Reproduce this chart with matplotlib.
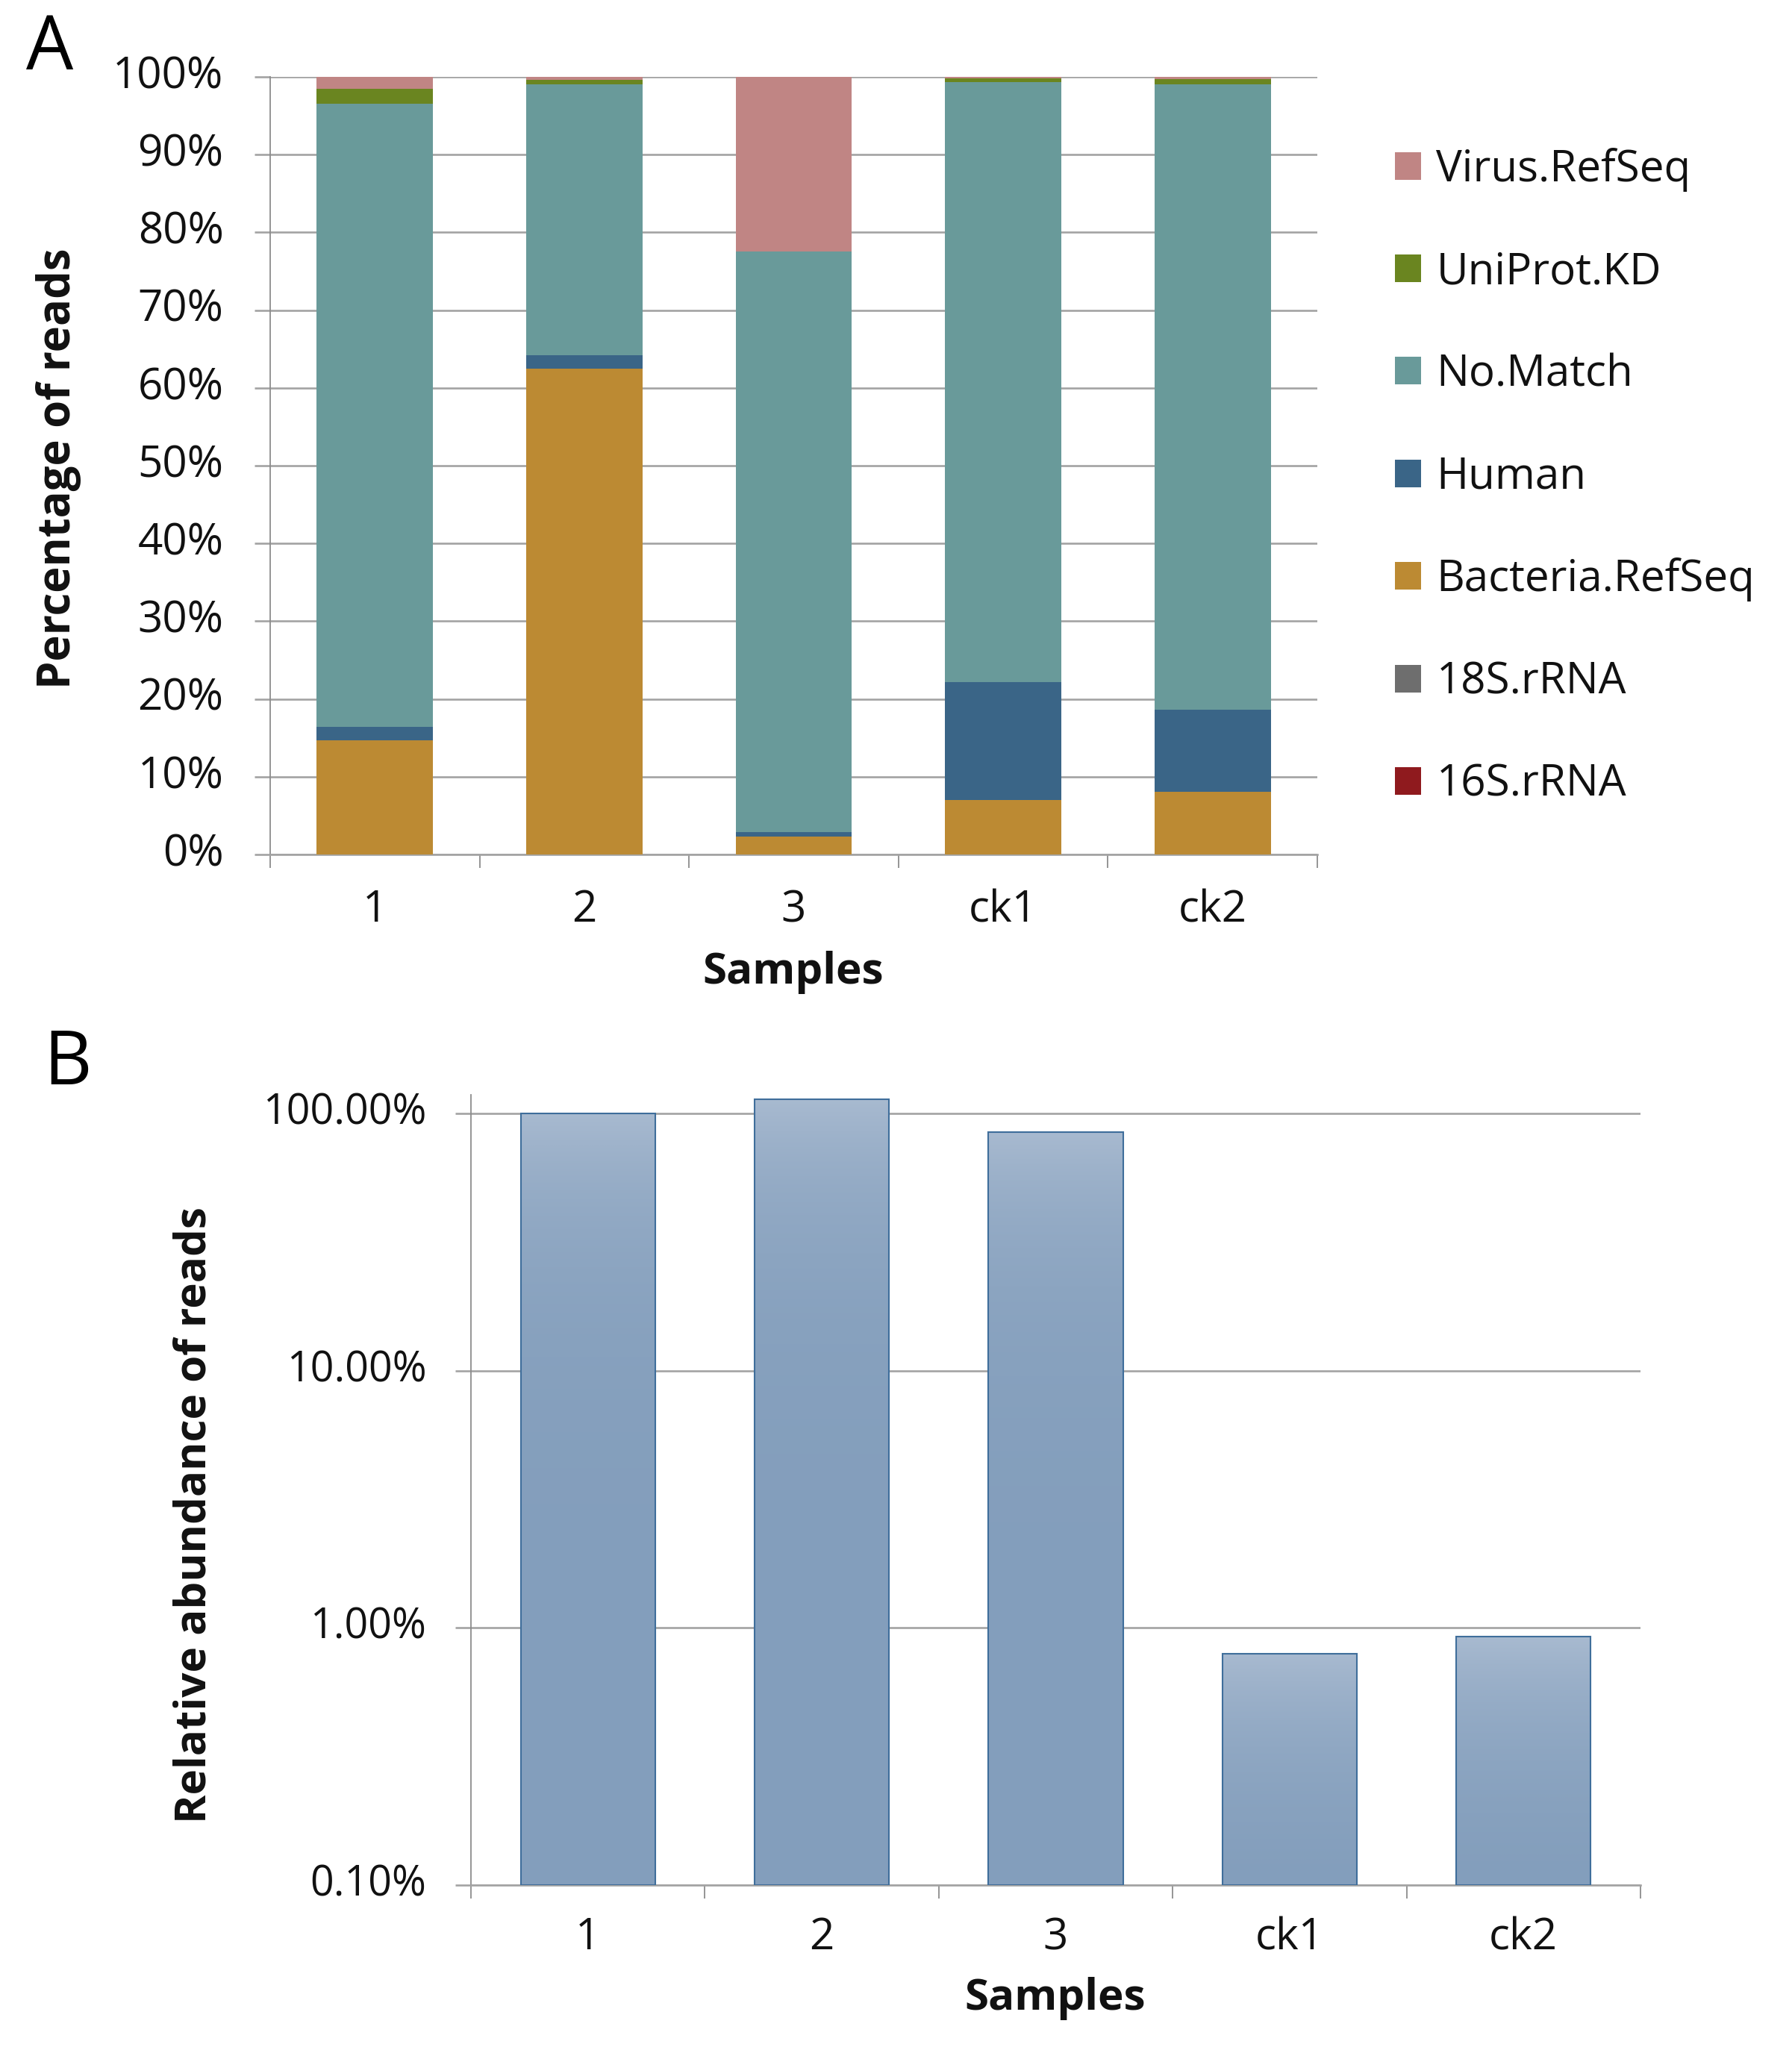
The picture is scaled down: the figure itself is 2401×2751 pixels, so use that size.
import numpy as np
import matplotlib
matplotlib.use("Agg")
import matplotlib.pyplot as plt
from matplotlib.colors import LinearSegmentedColormap
from matplotlib.ticker import FixedLocator, FuncFormatter

plt.rcParams['font.family'] = ['Open Sans', 'DejaVu Sans']

# ---------------- data ----------------
samples = ["1", "2", "3", "ck1", "ck2"]

# Panel A: percentage of reads (stack order bottom -> top)
rRNA_16S = [0.0, 0.0, 0.0, 0.0, 0.0]
rRNA_18S = [0.0, 0.0, 0.0, 0.0, 0.0]
bacteria_refseq = [14.7, 62.5, 2.3, 7.0, 8.1]
human = [1.7, 1.7, 0.55, 15.2, 10.5]
no_match = [80.1, 34.8, 74.65, 77.1, 80.4]
uniprot_kd = [1.95, 0.58, 0.0, 0.5, 0.75]
virus_refseq = [1.55, 0.42, 22.5, 0.2, 0.25]

series_names = ["16S.rRNA", "18S.rRNA", "Bacteria.RefSeq", "Human",
                "No.Match", "UniProt.KD", "Virus.RefSeq"]
series_values = [rRNA_16S, rRNA_18S, bacteria_refseq, human,
                 no_match, uniprot_kd, virus_refseq]
series_colors = ["#8F1A1E", "#6E6E6E", "#BC8A33", "#3A6587",
                 "#699A9A", "#6A8520", "#C08584"]

# Panel B: relative abundance of reads (%)
relative_abundance = [100.0, 113.5, 84.6, 0.792, 0.925]
b_ticks = [0.1, 1.0, 10.0, 100.0]

# ---------------- figure ----------------
W, H = 2401, 2751
fig = plt.figure(figsize=(W / 100, H / 100), dpi=100)

def fx(px):
    return px / W

def fy(py):
    return 1 - py / H

grid_c = "#A3A3A3"
axis_c = "#8C8C8C"
txt_c = "#111111"
tick_fs = 42

# ---------------- Panel A ----------------
axA = fig.add_axes([fx(362), fy(1145), fx(1765) - fx(362), fy(103) - fy(1145)])
x = np.arange(len(samples))
bottom = np.zeros(len(samples))
handles = []
for name, vals, col in zip(series_names, series_values, series_colors):
    vals = np.asarray(vals)
    h = axA.bar(x, vals, width=0.555, bottom=bottom, color=col, label=name,
                zorder=3, linewidth=0)
    handles.append(h)
    bottom = bottom + vals

axA.set_xlim(-0.5, len(samples) - 0.5)
axA.set_ylim(0, 100)
axA.yaxis.set_major_locator(FixedLocator(np.arange(0, 101, 10)))
axA.yaxis.set_major_formatter(FuncFormatter(lambda v, p: f"{v:.0f}%"))
axA.yaxis.grid(True, color=grid_c, linewidth=1.9, zorder=0)
axA.set_axisbelow(True)
for s in ["top", "right"]:
    axA.spines[s].set_visible(False)
axA.spines["left"].set_color(axis_c)
axA.spines["left"].set_linewidth(1.3)
axA.spines["bottom"].set_color(grid_c)
axA.spines["bottom"].set_linewidth(1.9)
axA.tick_params(axis="y", direction="out", length=15, width=1.9, color=grid_c,
                labelsize=tick_fs, labelcolor=txt_c, pad=30)
axA.set_xticks(x)
axA.set_xticklabels(samples)
axA.set_xticks(np.arange(-0.5, len(samples), 1.0), minor=True)
axA.tick_params(axis="x", which="major", length=0, labelsize=tick_fs,
                labelcolor=txt_c, pad=33)
axA.tick_params(axis="x", which="minor", direction="out", length=13,
                width=1.3, color=axis_c)
for lab in axA.get_yticklabels():
    lab.set_va("center")

fig.text(fx(1063), fy(1303), "Samples", ha="center", va="center",
         fontsize=42, fontweight="bold", color=txt_c)
fig.text(fx(79), fy(628), "Percentage of reads", ha="center", va="center",
         rotation=90, fontsize=43, fontweight="bold", color=txt_c)
fig.text(fx(67), fy(67), "A", ha="center", va="center", fontsize=72, color="black")

leg = axA.legend(handles[::-1], [h.get_label() for h in handles[::-1]],
                 loc="upper left", bbox_to_anchor=(fx(1869), fy(198)),
                 bbox_transform=fig.transFigure, frameon=False, fontsize=42,
                 handlelength=0.6, handleheight=0.6, handletextpad=0.35,
                 labelspacing=1.35, borderaxespad=0, borderpad=0)
for t in leg.get_texts():
    t.set_color(txt_c)

# ---------------- Panel B ----------------
axB = fig.add_axes([fx(631), fy(2526), fx(2198) - fx(631), fy(1467) - fy(2526)])
axB.set_yscale("log")
ylimB = (0.1, 118.0)
bw = 0.575
heights = np.asarray(relative_abundance) - ylimB[0]
bars = axB.bar(x, heights, width=bw, bottom=ylimB[0],
               facecolor="none", edgecolor="#3F6E9B", linewidth=1.5, zorder=4)
cmap = LinearSegmentedColormap.from_list("grad", ["#839EBC", "#A8BAD0"])
grad = np.linspace(0, 1, 256).reshape(-1, 1)
for xi, v, patch in zip(x, relative_abundance, bars.patches):
    im = axB.imshow(grad, cmap=cmap, origin="lower", aspect="auto",
                    extent=(xi - bw / 2, xi + bw / 2, ylimB[0], v), zorder=3,
                    interpolation="bilinear")
    im.set_clip_path(patch)

axB.set_xlim(-0.5, len(samples) - 0.5)
axB.set_ylim(*ylimB)
axB.yaxis.set_major_locator(FixedLocator(b_ticks))
axB.yaxis.set_minor_locator(FixedLocator([]))
axB.yaxis.set_major_formatter(FuncFormatter(lambda v, p: f"{v:.2f}%"))
axB.yaxis.grid(True, color=grid_c, linewidth=1.9, zorder=0)
axB.set_axisbelow(True)
for s in ["top", "right"]:
    axB.spines[s].set_visible(False)
axB.spines["left"].set_color(axis_c)
axB.spines["left"].set_linewidth(1.3)
axB.spines["bottom"].set_color(grid_c)
axB.spines["bottom"].set_linewidth(1.9)
axB.tick_params(axis="y", which="major", direction="out", length=15, width=1.9,
                color=grid_c, labelsize=40, labelcolor=txt_c, pad=28)
axB.set_xticks(x)
axB.set_xticklabels(samples)
axB.set_xticks(np.arange(-0.5, len(samples), 1.0), minor=True)
axB.tick_params(axis="x", which="major", length=0, labelsize=tick_fs,
                labelcolor=txt_c, pad=30)
axB.tick_params(axis="x", which="minor", direction="out", length=13,
                width=1.3, color=axis_c)
for lab in axB.get_yticklabels():
    lab.set_va("center")

fig.text(fx(1414), fy(2678), "Samples", ha="center", va="center",
         fontsize=42, fontweight="bold", color=txt_c)
fig.text(fx(261), fy(2030), "Relative abundance of reads", ha="center",
         va="center", rotation=90, fontsize=42, fontweight="bold", color=txt_c)
fig.text(fx(90), fy(1427), "B", ha="center", va="center", fontsize=72, color="black")

fig.savefig("out.png", dpi=100, facecolor="white")
